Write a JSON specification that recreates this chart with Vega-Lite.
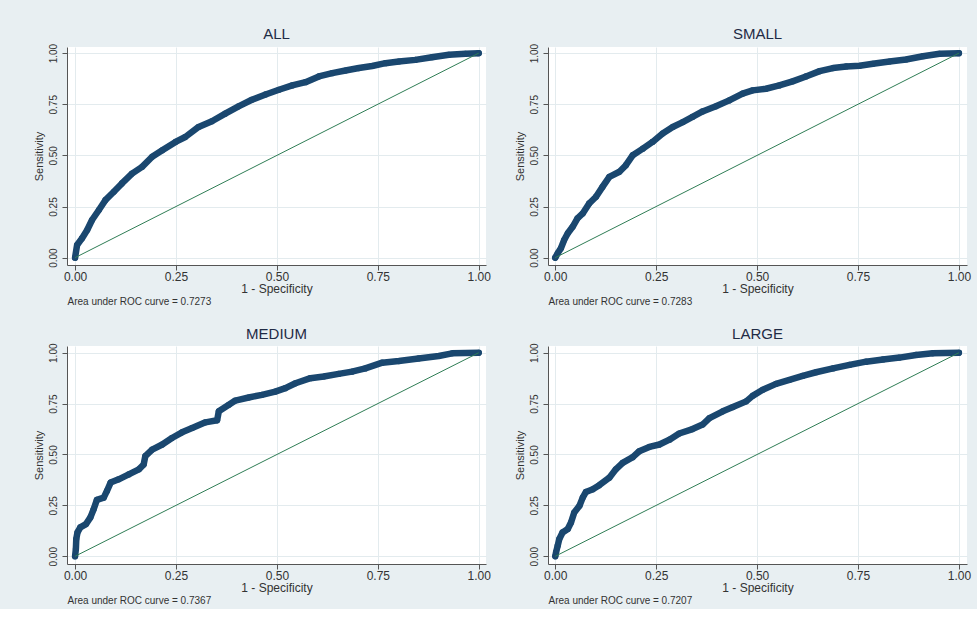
{
  "$schema": "https://vega.github.io/schema/vega-lite/v6.json",
  "background": "#e8eff2",
  "padding": {"left": 32, "top": 27, "right": 6, "bottom": 4},
  "columns": 2,
  "spacing": {"row": 81, "column": 62},
  "bounds": "flush",
  "datasets": {
    "all": [
      {"fpr": 0, "tpr": 0}, {"fpr": 0.005, "tpr": 0.062}, {"fpr": 0.017, "tpr": 0.094}, {"fpr": 0.030, "tpr": 0.135},
      {"fpr": 0.042, "tpr": 0.184}, {"fpr": 0.059, "tpr": 0.233}, {"fpr": 0.075, "tpr": 0.281}, {"fpr": 0.096, "tpr": 0.322},
      {"fpr": 0.116, "tpr": 0.363}, {"fpr": 0.141, "tpr": 0.411}, {"fpr": 0.166, "tpr": 0.444}, {"fpr": 0.191, "tpr": 0.493},
      {"fpr": 0.216, "tpr": 0.525}, {"fpr": 0.249, "tpr": 0.566}, {"fpr": 0.273, "tpr": 0.590}, {"fpr": 0.306, "tpr": 0.639},
      {"fpr": 0.339, "tpr": 0.667}, {"fpr": 0.372, "tpr": 0.704}, {"fpr": 0.405, "tpr": 0.740}, {"fpr": 0.438, "tpr": 0.772},
      {"fpr": 0.472, "tpr": 0.798}, {"fpr": 0.505, "tpr": 0.821}, {"fpr": 0.538, "tpr": 0.842}, {"fpr": 0.571, "tpr": 0.858},
      {"fpr": 0.604, "tpr": 0.886}, {"fpr": 0.637, "tpr": 0.902}, {"fpr": 0.670, "tpr": 0.915}, {"fpr": 0.703, "tpr": 0.927},
      {"fpr": 0.736, "tpr": 0.937}, {"fpr": 0.769, "tpr": 0.951}, {"fpr": 0.802, "tpr": 0.959}, {"fpr": 0.843, "tpr": 0.967},
      {"fpr": 0.884, "tpr": 0.980}, {"fpr": 0.926, "tpr": 0.992}, {"fpr": 0.967, "tpr": 0.997}, {"fpr": 1, "tpr": 1}
    ],
    "small": [
      {"fpr": 0, "tpr": 0}, {"fpr": 0.006, "tpr": 0.021}, {"fpr": 0.014, "tpr": 0.046}, {"fpr": 0.022, "tpr": 0.086},
      {"fpr": 0.031, "tpr": 0.119}, {"fpr": 0.043, "tpr": 0.151}, {"fpr": 0.055, "tpr": 0.192}, {"fpr": 0.068, "tpr": 0.216},
      {"fpr": 0.084, "tpr": 0.265}, {"fpr": 0.101, "tpr": 0.298}, {"fpr": 0.117, "tpr": 0.346}, {"fpr": 0.134, "tpr": 0.395},
      {"fpr": 0.159, "tpr": 0.420}, {"fpr": 0.175, "tpr": 0.452}, {"fpr": 0.192, "tpr": 0.501}, {"fpr": 0.217, "tpr": 0.533},
      {"fpr": 0.241, "tpr": 0.566}, {"fpr": 0.266, "tpr": 0.607}, {"fpr": 0.291, "tpr": 0.639}, {"fpr": 0.316, "tpr": 0.663},
      {"fpr": 0.340, "tpr": 0.688}, {"fpr": 0.365, "tpr": 0.715}, {"fpr": 0.398, "tpr": 0.740}, {"fpr": 0.431, "tpr": 0.769},
      {"fpr": 0.464, "tpr": 0.802}, {"fpr": 0.489, "tpr": 0.818}, {"fpr": 0.522, "tpr": 0.826}, {"fpr": 0.555, "tpr": 0.842},
      {"fpr": 0.588, "tpr": 0.862}, {"fpr": 0.621, "tpr": 0.886}, {"fpr": 0.655, "tpr": 0.912}, {"fpr": 0.688, "tpr": 0.927},
      {"fpr": 0.721, "tpr": 0.935}, {"fpr": 0.754, "tpr": 0.938}, {"fpr": 0.787, "tpr": 0.948}, {"fpr": 0.828, "tpr": 0.959},
      {"fpr": 0.869, "tpr": 0.969}, {"fpr": 0.911, "tpr": 0.985}, {"fpr": 0.952, "tpr": 0.997}, {"fpr": 1, "tpr": 1}
    ],
    "medium": [
      {"fpr": 0, "tpr": 0}, {"fpr": 0.002, "tpr": 0.036}, {"fpr": 0.003, "tpr": 0.085}, {"fpr": 0.006, "tpr": 0.117},
      {"fpr": 0.013, "tpr": 0.142}, {"fpr": 0.027, "tpr": 0.158}, {"fpr": 0.038, "tpr": 0.191}, {"fpr": 0.046, "tpr": 0.231},
      {"fpr": 0.054, "tpr": 0.277}, {"fpr": 0.071, "tpr": 0.288}, {"fpr": 0.079, "tpr": 0.321}, {"fpr": 0.088, "tpr": 0.362},
      {"fpr": 0.108, "tpr": 0.378}, {"fpr": 0.133, "tpr": 0.402}, {"fpr": 0.158, "tpr": 0.427}, {"fpr": 0.170, "tpr": 0.451},
      {"fpr": 0.174, "tpr": 0.492}, {"fpr": 0.191, "tpr": 0.524}, {"fpr": 0.216, "tpr": 0.549}, {"fpr": 0.240, "tpr": 0.581},
      {"fpr": 0.265, "tpr": 0.609}, {"fpr": 0.290, "tpr": 0.630}, {"fpr": 0.323, "tpr": 0.658}, {"fpr": 0.352, "tpr": 0.668},
      {"fpr": 0.356, "tpr": 0.712}, {"fpr": 0.381, "tpr": 0.744}, {"fpr": 0.397, "tpr": 0.765}, {"fpr": 0.430, "tpr": 0.780},
      {"fpr": 0.463, "tpr": 0.793}, {"fpr": 0.496, "tpr": 0.809}, {"fpr": 0.521, "tpr": 0.826}, {"fpr": 0.546, "tpr": 0.850},
      {"fpr": 0.583, "tpr": 0.875}, {"fpr": 0.616, "tpr": 0.883}, {"fpr": 0.653, "tpr": 0.896}, {"fpr": 0.686, "tpr": 0.907},
      {"fpr": 0.719, "tpr": 0.923}, {"fpr": 0.761, "tpr": 0.951}, {"fpr": 0.802, "tpr": 0.959}, {"fpr": 0.851, "tpr": 0.972},
      {"fpr": 0.901, "tpr": 0.984}, {"fpr": 0.934, "tpr": 0.997}, {"fpr": 1, "tpr": 1}
    ],
    "large": [
      {"fpr": 0, "tpr": 0}, {"fpr": 0.002, "tpr": 0.020}, {"fpr": 0.006, "tpr": 0.052}, {"fpr": 0.010, "tpr": 0.085},
      {"fpr": 0.018, "tpr": 0.117}, {"fpr": 0.031, "tpr": 0.134}, {"fpr": 0.039, "tpr": 0.166}, {"fpr": 0.047, "tpr": 0.215},
      {"fpr": 0.060, "tpr": 0.248}, {"fpr": 0.068, "tpr": 0.288}, {"fpr": 0.076, "tpr": 0.316}, {"fpr": 0.093, "tpr": 0.329},
      {"fpr": 0.109, "tpr": 0.349}, {"fpr": 0.134, "tpr": 0.386}, {"fpr": 0.150, "tpr": 0.427}, {"fpr": 0.167, "tpr": 0.459},
      {"fpr": 0.192, "tpr": 0.487}, {"fpr": 0.208, "tpr": 0.516}, {"fpr": 0.233, "tpr": 0.537}, {"fpr": 0.258, "tpr": 0.549},
      {"fpr": 0.283, "tpr": 0.573}, {"fpr": 0.307, "tpr": 0.603}, {"fpr": 0.340, "tpr": 0.625}, {"fpr": 0.365, "tpr": 0.647},
      {"fpr": 0.382, "tpr": 0.679}, {"fpr": 0.415, "tpr": 0.712}, {"fpr": 0.440, "tpr": 0.733}, {"fpr": 0.473, "tpr": 0.761},
      {"fpr": 0.489, "tpr": 0.788}, {"fpr": 0.514, "tpr": 0.818}, {"fpr": 0.547, "tpr": 0.847}, {"fpr": 0.580, "tpr": 0.866},
      {"fpr": 0.613, "tpr": 0.886}, {"fpr": 0.646, "tpr": 0.904}, {"fpr": 0.688, "tpr": 0.923}, {"fpr": 0.729, "tpr": 0.940},
      {"fpr": 0.770, "tpr": 0.956}, {"fpr": 0.812, "tpr": 0.967}, {"fpr": 0.853, "tpr": 0.976}, {"fpr": 0.894, "tpr": 0.989},
      {"fpr": 0.935, "tpr": 0.997}, {"fpr": 1, "tpr": 1}
    ]
  },
  "concat": [
    {
      "title": "ALL",
      "width": 419, "height": 218,
      "resolve": {"axis": {"x": "independent"}},
      "layer": [
        {
          "data": {"name": "all"},
          "mark": {"type": "line", "color": "#1a476f", "strokeWidth": 6.5, "strokeCap": "round", "strokeJoin": "round"},
          "encoding": {
            "x": {"field": "fpr", "type": "quantitative", "scale": {"domain": [-0.02, 1.018], "nice": false, "zero": false},
                  "axis": {"orient": "bottom", "title": "1 - Specificity", "values": [0, 0.25, 0.5, 0.75, 1], "format": ".2f", "tickSize": 5, "labelFontSize": 12, "labelPadding": 1, "titleFontSize": 12, "titlePadding": 1, "grid": true}},
            "y": {"field": "tpr", "type": "quantitative", "scale": {"domain": [-0.036, 1.03], "nice": false, "zero": false},
                  "axis": {"orient": "left", "title": "Sensitivity", "values": [0, 0.25, 0.5, 0.75, 1], "format": ".2f", "tickSize": 5, "labelAngle": 270, "labelAlign": "center", "labelBaseline": "bottom", "labelFontSize": 10, "labelPadding": 4, "titleFontSize": 11, "titlePadding": 4, "grid": true}}
          }
        },
        {
          "data": {"name": "all"},
          "mark": {"type": "point", "filled": true, "opacity": 1, "color": "#1a476f", "size": 38},
          "encoding": {
            "x": {"field": "fpr", "type": "quantitative", "axis": null},
            "y": {"field": "tpr", "type": "quantitative"}
          }
        },
        {
          "data": {"values": [{}]},
          "mark": {"type": "rule", "color": "#2f7d55", "strokeWidth": 1},
          "encoding": {
            "x": {"datum": 0, "type": "quantitative",
                  "axis": {"orient": "bottom", "title": "Area under ROC curve = 0.7273", "labels": false, "ticks": false, "domain": false, "grid": false, "titleAnchor": "start", "titleAlign": "left", "titleFontSize": 10, "titlePadding": 31, "minExtent": 0}},
            "y": {"datum": 0, "type": "quantitative"},
            "x2": {"datum": 1}, "y2": {"datum": 1}
          }
        }
      ]
    },
    {
      "title": "SMALL",
      "width": 419, "height": 218,
      "resolve": {"axis": {"x": "independent"}},
      "layer": [
        {
          "data": {"name": "small"},
          "mark": {"type": "line", "color": "#1a476f", "strokeWidth": 6.5, "strokeCap": "round", "strokeJoin": "round"},
          "encoding": {
            "x": {"field": "fpr", "type": "quantitative", "scale": {"domain": [-0.018, 1.02], "nice": false, "zero": false},
                  "axis": {"orient": "bottom", "title": "1 - Specificity", "values": [0, 0.25, 0.5, 0.75, 1], "format": ".2f", "tickSize": 5, "labelFontSize": 12, "labelPadding": 1, "titleFontSize": 12, "titlePadding": 1, "grid": true}},
            "y": {"field": "tpr", "type": "quantitative", "scale": {"domain": [-0.036, 1.03], "nice": false, "zero": false},
                  "axis": {"orient": "left", "title": "Sensitivity", "values": [0, 0.25, 0.5, 0.75, 1], "format": ".2f", "tickSize": 5, "labelAngle": 270, "labelAlign": "center", "labelBaseline": "bottom", "labelFontSize": 10, "labelPadding": 4, "titleFontSize": 11, "titlePadding": 4, "grid": true}}
          }
        },
        {
          "data": {"name": "small"},
          "mark": {"type": "point", "filled": true, "opacity": 1, "color": "#1a476f", "size": 38},
          "encoding": {
            "x": {"field": "fpr", "type": "quantitative", "axis": null},
            "y": {"field": "tpr", "type": "quantitative"}
          }
        },
        {
          "data": {"values": [{}]},
          "mark": {"type": "rule", "color": "#2f7d55", "strokeWidth": 1},
          "encoding": {
            "x": {"datum": 0, "type": "quantitative",
                  "axis": {"orient": "bottom", "title": "Area under ROC curve = 0.7283", "labels": false, "ticks": false, "domain": false, "grid": false, "titleAnchor": "start", "titleAlign": "left", "titleFontSize": 10, "titlePadding": 31, "minExtent": 0}},
            "y": {"datum": 0, "type": "quantitative"},
            "x2": {"datum": 1}, "y2": {"datum": 1}
          }
        }
      ]
    },
    {
      "title": "MEDIUM",
      "width": 419, "height": 218,
      "resolve": {"axis": {"x": "independent"}},
      "layer": [
        {
          "data": {"name": "medium"},
          "mark": {"type": "line", "color": "#1a476f", "strokeWidth": 6.5, "strokeCap": "round", "strokeJoin": "round"},
          "encoding": {
            "x": {"field": "fpr", "type": "quantitative", "scale": {"domain": [-0.02, 1.018], "nice": false, "zero": false},
                  "axis": {"orient": "bottom", "title": "1 - Specificity", "values": [0, 0.25, 0.5, 0.75, 1], "format": ".2f", "tickSize": 5, "labelFontSize": 12, "labelPadding": 1, "titleFontSize": 12, "titlePadding": 1, "grid": true}},
            "y": {"field": "tpr", "type": "quantitative", "scale": {"domain": [-0.038, 1.033], "nice": false, "zero": false},
                  "axis": {"orient": "left", "title": "Sensitivity", "values": [0, 0.25, 0.5, 0.75, 1], "format": ".2f", "tickSize": 5, "labelAngle": 270, "labelAlign": "center", "labelBaseline": "bottom", "labelFontSize": 10, "labelPadding": 4, "titleFontSize": 11, "titlePadding": 4, "grid": true}}
          }
        },
        {
          "data": {"name": "medium"},
          "mark": {"type": "point", "filled": true, "opacity": 1, "color": "#1a476f", "size": 38},
          "encoding": {
            "x": {"field": "fpr", "type": "quantitative", "axis": null},
            "y": {"field": "tpr", "type": "quantitative"}
          }
        },
        {
          "data": {"values": [{}]},
          "mark": {"type": "rule", "color": "#2f7d55", "strokeWidth": 1},
          "encoding": {
            "x": {"datum": 0, "type": "quantitative",
                  "axis": {"orient": "bottom", "title": "Area under ROC curve = 0.7367", "labels": false, "ticks": false, "domain": false, "grid": false, "titleAnchor": "start", "titleAlign": "left", "titleFontSize": 10, "titlePadding": 31, "minExtent": 0}},
            "y": {"datum": 0, "type": "quantitative"},
            "x2": {"datum": 1}, "y2": {"datum": 1}
          }
        }
      ]
    },
    {
      "title": "LARGE",
      "width": 419, "height": 218,
      "resolve": {"axis": {"x": "independent"}},
      "layer": [
        {
          "data": {"name": "large"},
          "mark": {"type": "line", "color": "#1a476f", "strokeWidth": 6.5, "strokeCap": "round", "strokeJoin": "round"},
          "encoding": {
            "x": {"field": "fpr", "type": "quantitative", "scale": {"domain": [-0.018, 1.02], "nice": false, "zero": false},
                  "axis": {"orient": "bottom", "title": "1 - Specificity", "values": [0, 0.25, 0.5, 0.75, 1], "format": ".2f", "tickSize": 5, "labelFontSize": 12, "labelPadding": 1, "titleFontSize": 12, "titlePadding": 1, "grid": true}},
            "y": {"field": "tpr", "type": "quantitative", "scale": {"domain": [-0.038, 1.033], "nice": false, "zero": false},
                  "axis": {"orient": "left", "title": "Sensitivity", "values": [0, 0.25, 0.5, 0.75, 1], "format": ".2f", "tickSize": 5, "labelAngle": 270, "labelAlign": "center", "labelBaseline": "bottom", "labelFontSize": 10, "labelPadding": 4, "titleFontSize": 11, "titlePadding": 4, "grid": true}}
          }
        },
        {
          "data": {"name": "large"},
          "mark": {"type": "point", "filled": true, "opacity": 1, "color": "#1a476f", "size": 38},
          "encoding": {
            "x": {"field": "fpr", "type": "quantitative", "axis": null},
            "y": {"field": "tpr", "type": "quantitative"}
          }
        },
        {
          "data": {"values": [{}]},
          "mark": {"type": "rule", "color": "#2f7d55", "strokeWidth": 1},
          "encoding": {
            "x": {"datum": 0, "type": "quantitative",
                  "axis": {"orient": "bottom", "title": "Area under ROC curve = 0.7207", "labels": false, "ticks": false, "domain": false, "grid": false, "titleAnchor": "start", "titleAlign": "left", "titleFontSize": 10, "titlePadding": 31, "minExtent": 0}},
            "y": {"datum": 0, "type": "quantitative"},
            "x2": {"datum": 1}, "y2": {"datum": 1}
          }
        }
      ]
    }
  ],
  "config": {
    "font": "Liberation Sans",
    "view": {"stroke": null, "fill": "white"},
    "title": {"fontSize": 15, "fontWeight": "normal", "color": "#1f2b45", "anchor": "middle", "frame": "group", "offset": 1, "baseline": "alphabetic"},
    "axis": {
      "labelFont": "Liberation Sans", "titleFont": "Liberation Sans",
      "labelColor": "#333333", "titleColor": "#333333", "titleFontWeight": "normal",
      "domainColor": "#555555", "tickColor": "#555555",
      "gridColor": "#e3ebee", "gridWidth": 1,
      "labelFlush": false, "labelOverlap": false
    }
  }
}
